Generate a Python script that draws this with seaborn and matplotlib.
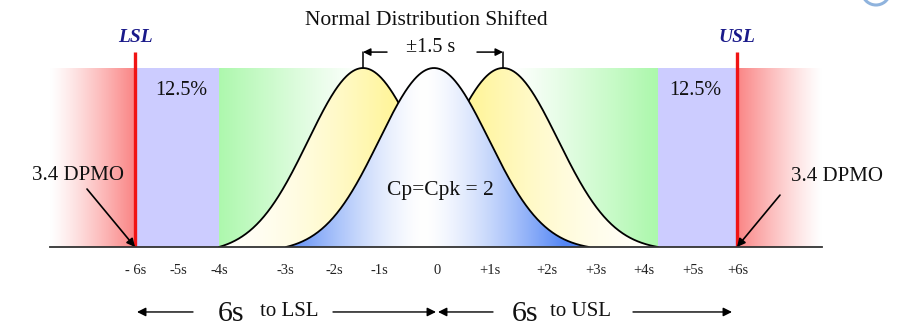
import numpy as np
import pandas as pd
import matplotlib
matplotlib.use("Agg")
import matplotlib.pyplot as plt
from matplotlib.patches import Polygon, Arc
import seaborn as sns

# ---------------- data ----------------
tick_labels = ["- 6s", "-5s", "-4s", "-3s", "-2s", "-1s", "0",
               "+1s", "+2s", "+3s", "+4s", "+5s", "+6s"]
tick_pos = [-6.02, -5.18, -4.35, -3.04, -2.06, -1.16, 0.0,
            1.06, 2.2, 3.18, 4.14, 5.12, 6.02]
spec_limits = [-6.04, 6.0]          # LSL, USL
spec_names = ["LSL", "USL"]
zone_4s = [-4.36, 4.42]             # +/-4 sigma boundary of green zone
curve_means = [-1.48, 1.32, -0.06]  # left shifted, right shifted, centred
curve_left_hw = [2.88, 2.9, 2.96]   # distance mean -> base (left side)
curve_right_hw = [2.9, 3.1, 3.1]    # distance mean -> base (right side)
curve_sd = 1.1
pct_labels = ["12.5%", "12.5%"]
dpmo_labels = ["3.4 DPMO", "3.4 DPMO"]
title_text = "Normal Distribution Shifted"
shift_text = "\u00b11.5 s"
cp_text = "Cp=Cpk = 2"

# ---------------- style ----------------
sns.set_theme(style="white")
plt.rcParams["font.family"] = ["Liberation Serif", "DejaVu Serif"]

W, H = 900, 328
fig = plt.figure(figsize=(W / 100, H / 100), dpi=100)
ax = fig.add_axes([50 / W, 81 / H, 772 / W, 247 / H])
XL = (-7.74, 7.70)
YL = (0, 1.38)

WHITE = np.array([1.0, 1.0, 1.0])
RED = np.array([250, 132, 132]) / 255
LAV = np.array([204, 204, 255]) / 255
GREEN = np.array([172, 248, 172]) / 255
YELLOW = np.array([255, 245, 155]) / 255
BLUE = np.array([85, 135, 245]) / 255


def grad(x0, x1, tfunc, color, y0=0.0, y1=1.0, clip=None, z=1):
    xs = np.linspace(x0, x1, 500)
    t = np.clip(tfunc(xs), 0, 1)[:, None]
    rgb = WHITE * (1 - t) + color * t
    img = np.concatenate([rgb, np.ones((len(xs), 1))], axis=1)[None, :, :]
    im = ax.imshow(img, extent=[x0, x1, y0, y1], aspect="auto", origin="lower",
                   interpolation="bilinear", zorder=z)
    if clip is not None:
        im.set_clip_path(clip)
    return im


def curve(m, lhw, rhw):
    x = np.linspace(m - lhw, m + rhw, 400)
    g = np.exp(-(x - m) ** 2 / (2 * curve_sd ** 2))
    gl = np.exp(-lhw ** 2 / (2 * curve_sd ** 2))
    gr = np.exp(-rhw ** 2 / (2 * curve_sd ** 2))
    gc = np.where(x < m, gl, gr)
    y = np.clip((g - gc) / (1 - gc), 0, None)
    return x, y


# red fade zones outside spec limits
lsl, usl = spec_limits
grad(XL[0], lsl, lambda x: ((x - XL[0]) / (lsl - XL[0])) ** 1.2, RED, z=1)
grad(usl, XL[1], lambda x: ((XL[1] - x) / (XL[1] - usl)) ** 1.2, RED, z=1)
# lavender zones between 4s and 6s
ax.axvspan(lsl, zone_4s[0], ymin=0, ymax=1 / YL[1], color=LAV, lw=0, zorder=1)
ax.axvspan(zone_4s[1], usl, ymin=0, ymax=1 / YL[1], color=LAV, lw=0, zorder=1)
# green zone
grad(zone_4s[0], zone_4s[1],
     lambda x: ((np.abs(x) - 1.5) / 2.9) ** 1.1, GREEN, z=1)

# shifted (yellow) curves
x_l, y_l = curve(curve_means[0], curve_left_hw[0], curve_right_hw[0])
x_r, y_r = curve(curve_means[1], curve_left_hw[1], curve_right_hw[1])
x_c, y_c = curve(curve_means[2], curve_left_hw[2], curve_right_hw[2])

for (xx, yy, tf) in [
    (x_l, y_l, lambda x: 0.06 + 0.94 * ((x - x_l[0]) / (-0.9 - x_l[0])) ** 1.7),
    (x_r, y_r, lambda x: 0.06 + 0.94 * ((x_r[-1] - x) / (x_r[-1] - 0.75)) ** 1.7),
]:
    poly = Polygon(np.column_stack([xx, yy]), closed=True, fc="none", ec="none")
    ax.add_patch(poly)
    grad(xx[0], xx[-1], tf, YELLOW, clip=poly, z=2)
    sns.lineplot(x=xx, y=yy, color="black", lw=1.3, estimator=None, sort=False,
                 ax=ax, zorder=3)

# central curve
poly_c = Polygon(np.column_stack([x_c, y_c]), closed=True, fc="white", ec="none",
                 zorder=4)
ax.add_patch(poly_c)
grad(x_c[0], x_c[-1],
     lambda x: (np.abs(x - (curve_means[2] - 0.2)) / 2.8) ** 1.45,
     BLUE, clip=poly_c, z=5)
sns.lineplot(x=x_c, y=y_c, color="black", lw=1.3, estimator=None, sort=False,
             ax=ax, zorder=6)

# spec limit lines and labels
for xv, nm in zip(spec_limits, spec_names):
    ax.plot([xv, xv], [0, 1.089], color="#f01414", lw=2.4, zorder=7,
            solid_capstyle="butt")
    ax.text(xv, 1.17, nm, ha="center", va="center", fontsize=14,
            fontweight="bold", fontstyle="italic", color="#1a1a8a", zorder=8)

# percentages
for xv, t in zip([-5.12, 5.16], pct_labels):
    ax.text(xv, 0.877, t, ha="center", va="center", fontsize=14.5, color="#111111",
            zorder=8)

# DPMO annotations
ax.text(-7.18, 0.40, dpmo_labels[0], ha="center", va="center", fontsize=15,
        color="#111111", zorder=8)
ax.text(8.0, 0.392, dpmo_labels[1], ha="center", va="center", fontsize=15,
        color="#111111", zorder=8)
ap = dict(arrowstyle="-|>", color="black", lw=1.2, mutation_scale=12,
          shrinkA=0, shrinkB=0)
ax.annotate("", xy=(lsl, 0.0), xytext=(-7.0, 0.324), arrowprops=ap,
            annotation_clip=False, zorder=9)
ax.annotate("", xy=(usl, 0.0), xytext=(6.86, 0.29), arrowprops=ap,
            annotation_clip=False, zorder=9)

# title and shift bracket
ax.text(-0.22, 1.268, title_text, ha="center", va="center", fontsize=15.5,
        color="#111111")
ax.text(-0.12, 1.117, shift_text, ha="center", va="center", fontsize=14.5,
        color="#111111")
for m, start in [(curve_means[0], -1.0), (curve_means[1], 0.8)]:
    ax.plot([m, m], [1.0, 1.089], color="black", lw=1.1)
    ax.annotate("", xy=(m, 1.089), xytext=(start, 1.089),
                arrowprops=dict(arrowstyle="-|>", color="black", lw=1.1,
                                mutation_scale=11, shrinkA=0, shrinkB=0),
                annotation_clip=False)

ax.text(0.06, 0.318, cp_text, ha="center", va="center", fontsize=15.5,
        color="#111111", zorder=9)

# bottom "6s to LSL / USL"
yb = -0.363
for xs, lab_x, lab in [(-4.12, -2.96, "to LSL"), (1.76, 2.88, "to USL")]:
    ax.text(xs, yb - 0.01, "6s", ha="center", va="center", fontsize=21.5,
            color="#111111")
    ax.text(lab_x, yb, lab, ha="center", va="center", fontsize=15,
            color="#111111")
ap2 = dict(arrowstyle="-|>", color="black", lw=1.0, mutation_scale=13,
           shrinkA=0, shrinkB=0)
for (a, b) in [(-4.88, -6.0), (-2.08, -0.02), (1.12, 0.02), (3.92, 5.9)]:
    ax.annotate("", xy=(b, yb), xytext=(a, yb), arrowprops=ap2,
                annotation_clip=False)

# axes
ax.set_xlim(*XL)
ax.set_ylim(*YL)
ax.set_xticks(tick_pos, tick_labels)
ax.set_yticks([])
ax.tick_params(axis="x", length=0, pad=12, labelsize=10.5, colors="#222222")
for s in ["top", "left", "right"]:
    ax.spines[s].set_visible(False)
ax.spines["bottom"].set_color("#333333")
ax.spines["bottom"].set_linewidth(1.3)
ax.spines["bottom"].set_zorder(10)
ax.set_facecolor("none")

# faint logo fragment at top right
fig.add_artist(Arc((876 / W, (H + 9) / H), 28 / W, 28 / H, theta1=215, theta2=325,
                   color="#8fb3dd", lw=2.2, transform=fig.transFigure))

fig.savefig("out.png", dpi=100, facecolor="white")
